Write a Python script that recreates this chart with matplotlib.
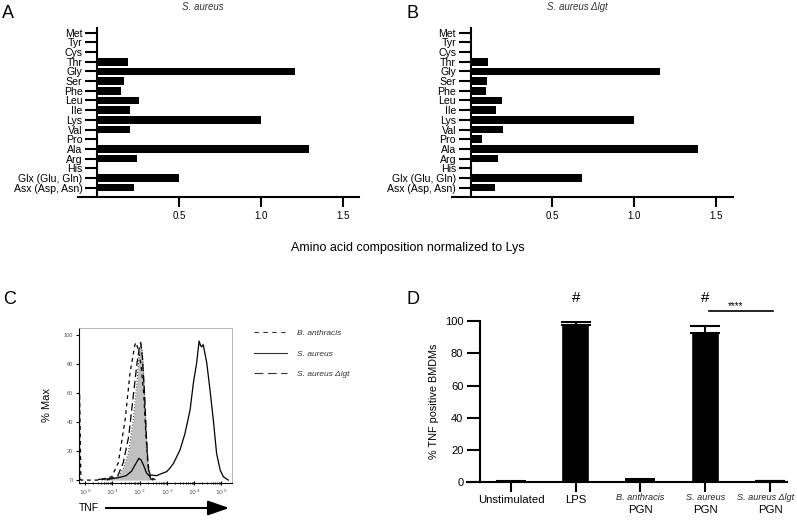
import matplotlib
matplotlib.use('Agg')
import matplotlib.pyplot as plt
from matplotlib.lines import Line2D
from matplotlib.transforms import blended_transform_factory
import numpy as np

plt.rcParams['font.family'] = ['Liberation Sans', 'DejaVu Sans']

# ---- data ----
amino_acids = ['Met', 'Tyr', 'Cys', 'Thr', 'Gly', 'Ser', 'Phe', 'Leu', 'Ile',
               'Lys', 'Val', 'Pro', 'Ala', 'Arg', 'His', 'Glx (Glu, Gln)', 'Asx (Asp, Asn)']
aa_saureus = [0, 0, 0, 0.19, 1.205, 0.165, 0.146, 0.258, 0.20,
              1.0, 0.203, 0, 1.29, 0.242, 0, 0.50, 0.224]
aa_dlgt = [0, 0, 0, 0.108, 1.157, 0.102, 0.096, 0.19, 0.155,
           1.0, 0.198, 0.067, 1.39, 0.165, 0, 0.68, 0.151]

# flow histograms (x in log10 TNF units, y in % max)
ctrl_x = [0.6, 0.9, 1.1, 1.22, 1.4, 1.59, 1.77, 1.89, 1.99, 2.05, 2.1, 2.14, 2.22, 2.29, 2.38, 2.5]
ctrl_y = [0, 0.5, 1.5, 2.5, 8, 18.5, 41.6, 64.7, 88, 94, 88, 76, 41.6, 14, 1, 0]
banth_x = [-0.2, -0.2, -0.15, 0.5, 0.98, 1.22, 1.47, 1.65, 1.83, 1.87, 1.95, 2.05, 2.15, 2.22, 2.3, 2.4, 2.6]
banth_y = [0, 60, 0, 0, 2.3, 12, 41.6, 74, 93.5, 95, 90, 80, 60, 35, 12, 2, 0]
dlgt_x = [0.8, 1.2, 1.4, 1.6, 1.75, 1.9, 2.0, 2.04, 2.1, 2.18, 2.25, 2.32, 2.4, 2.5]
dlgt_y = [0, 3, 12, 30, 55, 80, 93, 95, 85, 60, 30, 8, 1, 0]
sa_x = [0.5, 1.0, 1.3, 1.5, 1.7, 1.85, 1.97, 2.05, 2.15, 2.25, 2.35, 2.45, 2.62, 2.8, 2.99,
        3.1, 3.24, 3.48, 3.66, 3.85, 3.97, 4.09, 4.18, 4.23, 4.27, 4.33, 4.46, 4.58, 4.7,
        4.82, 4.95, 5.07, 5.25]
sa_y = [0.5, 1, 2, 3, 6, 11, 15, 14, 10, 5, 3, 3.5, 3, 4.5, 5.8,
        8, 11.5, 20.8, 32, 48.5, 67, 81, 96, 93, 92, 93.5, 81, 62, 41.6,
        18.5, 7, 2.3, 0]

groups = ['Unstimulated', 'LPS', 'B. anthracis', 'S. aureus', 'S. aureus Δlgt']
group_pgn = [False, False, True, True, True]
tnf_pos = [0.3, 97.5, 1.0, 92.4, 0.7]
tnf_err = [0.2, 2.0, 1.0, 4.5, 0.3]

W, H = 797, 526
fig = plt.figure(figsize=(W / 100, H / 100), dpi=100)


def px_rect(left, top, right, bottom):
    return [left / W, 1 - bottom / H, (right - left) / W, (bottom - top) / H]


def amino_panel(rect, xlim, vals, title, title_x, letter, letter_x):
    ax = fig.add_axes(rect)
    # move the spine first: set_position resets the ticks
    ax.spines['top'].set_visible(False)
    ax.spines['right'].set_visible(False)
    ax.spines['left'].set_position(('data', 0))
    ypos = np.arange(len(amino_acids))[::-1]
    ax.barh(ypos, vals, height=0.8, color='black')
    ax.set_xlim(*xlim)
    ax.set_ylim(-0.97, len(amino_acids) - 1 + 0.49)
    ax.set_yticks(ypos)
    ax.set_yticklabels(amino_acids)
    ax.set_xticks([0.5, 1.0, 1.5])
    ax.set_xticklabels(['0.5', '1.0', '1.5'])
    for s in ['left', 'bottom']:
        ax.spines[s].set_linewidth(1.5)
    ax.tick_params(axis='y', length=9, width=1.5, pad=1.5, labelsize=7.6)
    ax.tick_params(axis='x', length=7, width=1.5, pad=3, labelsize=7)
    fig.text(title_x / W, 1 - 7 / H, title, fontsize=7, style='italic',
             ha='center', va='center', color='#333333')
    fig.text(letter_x / W, 1 - 13 / H, letter, fontsize=13, ha='left', va='center')
    return ax


amino_panel(px_rect(78, 28, 359, 197), (-0.116, 1.598), aa_saureus,
            'S. aureus', 203, 'A', 2)
amino_panel(px_rect(451.7, 28, 732.7, 197), (-0.116, 1.605), aa_dlgt,
            'S. aureus Δlgt', 577, 'B', 406)
fig.text(408 / W, 1 - 248 / H, 'Amino acid composition normalized to Lys',
         fontsize=9, ha='center', va='center')

# ---- panel C ----
axc = fig.add_axes(px_rect(79, 328, 232, 483))
axc.fill_between(ctrl_x, ctrl_y, color='#c0c0c0', lw=0)
axc.plot(ctrl_x, ctrl_y, color='#444444', lw=0.8, ls=':')
axc.plot(banth_x, banth_y, color='black', lw=0.9, dashes=(3, 3))
axc.plot(dlgt_x, dlgt_y, color='black', lw=0.9, dashes=(6, 3))
axc.plot(sa_x, sa_y, color='black', lw=0.9)
axc.set_xlim(-0.22, 5.385)
axc.set_ylim(-2, 105)
axc.set_xticks(range(6))
axc.set_xticklabels(['$10^{%d}$' % d for d in range(6)], fontsize=4.5, color='#555555')
minor = [np.log10(k) + d for d in range(5) for k in range(2, 10)]
axc.set_xticks(minor, minor=True)
axc.set_yticks([0, 20, 40, 60, 80, 100])
axc.set_yticklabels(['0', '20', '40', '60', '80', '100'], fontsize=4, color='#555555')
axc.tick_params(axis='x', which='major', length=3, width=0.8, direction='inout', pad=2)
axc.tick_params(axis='x', which='minor', length=2, width=0.6, direction='inout')
axc.tick_params(axis='y', length=2.5, width=0.8, pad=2)
for s in ['top', 'right']:
    axc.spines[s].set_color('#aaaaaa')
    axc.spines[s].set_linewidth(0.6)
for s in ['left', 'bottom']:
    axc.spines[s].set_linewidth(0.8)
axc.set_ylabel('% Max', fontsize=8, labelpad=8)
handles = [Line2D([], [], color='#333333', lw=0.8, dashes=(4, 4)),
           Line2D([], [], color='#333333', lw=0.8),
           Line2D([], [], color='#333333', lw=0.8, dashes=(8, 4))]
fig.legend(handles, ['B. anthracis', 'S. aureus', 'S. aureus Δlgt'],
           loc='upper left', bbox_to_anchor=(254 / W, 1 - 329 / H),
           frameon=False, borderpad=0, borderaxespad=0, handlelength=3.9,
           handletextpad=1.3, labelspacing=1.55,
           prop={'size': 6, 'style': 'italic'}, labelcolor='#333333')
fig.text(79 / W, 1 - 508 / H, 'TNF', fontsize=7.5, ha='left', va='center')
axc.annotate('', xy=(232, H - 508), xytext=(103, H - 508), xycoords='figure pixels',
             textcoords='figure pixels',
             arrowprops=dict(arrowstyle='-|>,head_length=1.3,head_width=0.45',
                             lw=1.5, color='black'))
fig.text(3 / W, 1 - 300 / H, 'C', fontsize=13, ha='left', va='center')

# ---- panel D ----
axd = fig.add_axes(px_rect(466.7, 321, 786.7, 482.3))
axd.spines['top'].set_visible(False)
axd.spines['right'].set_visible(False)
axd.spines['left'].set_position(('axes', 13.3 / 320))
xi = np.arange(len(groups))
axd.bar(xi, tnf_pos, width=0.39, color='black', edgecolor='black', lw=1.2)
axd.errorbar(xi, tnf_pos, yerr=[np.zeros(len(xi)), tnf_err], fmt='none',
             ecolor='black', elinewidth=1.5, capsize=10.5, capthick=1.5)
axd.set_xlim(-0.684, 4.258)
axd.set_ylim(0, 100)
axd.set_yticks([0, 20, 40, 60, 80, 100])
axd.set_yticklabels(['0', '20', '40', '60', '80', '100'])
axd.set_xticks(xi)
axd.set_xticklabels([])
for s in ['left', 'bottom']:
    axd.spines[s].set_linewidth(1.5)
axd.tick_params(axis='y', length=9.5, width=1.5, pad=2.5, labelsize=8)
axd.tick_params(axis='x', length=7, width=1.5)
axd.set_ylabel('% TNF positive BMDMs', fontsize=7.8, labelpad=4)
tr = blended_transform_factory(axd.transData, fig.transFigure)
label_dx = [0, 0, 0, 0, -0.07]
for i, (g, pgn) in enumerate(zip(groups, group_pgn)):
    if pgn:
        axd.text(i + label_dx[i], 1 - 497 / H, g, transform=tr, fontsize=6.6,
                 style='italic', ha='center', va='center', color='#222222')
        axd.text(i, 1 - 510 / H, 'PGN', transform=tr, fontsize=8.2,
                 ha='center', va='center')
    else:
        axd.text(i, 1 - 500 / H, g, transform=tr, fontsize=8.2,
                 ha='center', va='center')
for i in [1, 3]:
    axd.text(i, 1 - 298 / H, '#', transform=tr, fontsize=11, ha='center', va='center')
axd.plot([3.06, 4.05], [106.5, 106.5], color='black', lw=1.2, clip_on=False)
axd.text(3.47, 1 - 306 / H, '****', transform=tr, fontsize=7, ha='center', va='center')
fig.text(406 / W, 1 - 299 / H, 'D', fontsize=13, ha='left', va='center')

fig.savefig('out.png', dpi=100)
